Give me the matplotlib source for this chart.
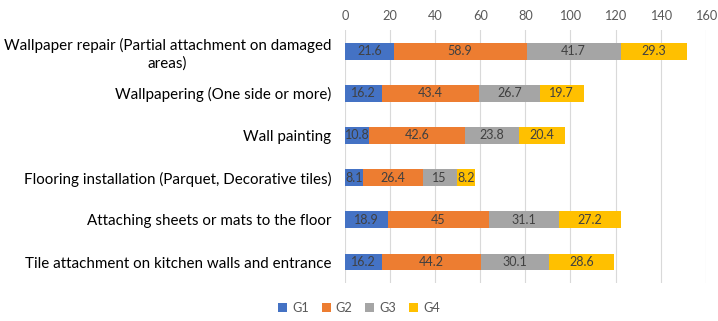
import matplotlib
matplotlib.use("Agg")
import matplotlib.pyplot as plt
import numpy as np

plt.rcParams['font.family'] = ['Lato', 'DejaVu Sans']

categories = [
    "Wallpaper repair (Partial attachment on damaged\nareas)",
    "Wallpapering (One side or more)",
    "Wall painting",
    "Flooring installation (Parquet, Decorative tiles)",
    "Attaching sheets or mats to the floor",
    "Tile attachment on kitchen walls and entrance",
]
g1 = [21.6, 16.2, 10.8, 8.1, 18.9, 16.2]
g2 = [58.9, 43.4, 42.6, 26.4, 45, 44.2]
g3 = [41.7, 26.7, 23.8, 15, 31.1, 30.1]
g4 = [29.3, 19.7, 20.4, 8.2, 27.2, 28.6]
series_names = ["G1", "G2", "G3", "G4"]
colors = ["#4472C4", "#ED7D31", "#A5A5A5", "#FFC000"]
x_ticks = [0, 20, 40, 60, 80, 100, 120, 140, 160]

fig = plt.figure(figsize=(7.18, 3.21), dpi=100)
ax = fig.add_axes([0.4805, 0.118, 0.5025, 0.7885])

y = np.arange(len(categories))
left = np.zeros(len(categories))
for vals, name, col in zip([g1, g2, g3, g4], series_names, colors):
    vals = np.array(vals, dtype=float)
    ax.barh(y, vals, left=left, height=0.4, color=col, label=name, zorder=3)
    for yi, l, v in zip(y, left, vals):
        ax.text(l + v / 2, yi, f"{v:g}", ha="center", va="center",
                fontsize=9, color="#404040", zorder=4)
    left += vals

ax.set_ylim(len(categories) - 0.5, -0.5)
ax.set_xlim(0, 160)
ax.set_xticks(x_ticks)
ax.xaxis.tick_top()
ax.tick_params(axis="x", length=0, labelsize=9.2, labelcolor="#595959", pad=6)
ax.set_yticks(y)
ax.set_yticklabels(categories, fontsize=10.9, color="#000000", ha="right",
                   multialignment="center", linespacing=1.3)
ax.tick_params(axis="y", length=0, pad=10)
ax.grid(axis="x", color="#D9D9D9", linewidth=0.8, zorder=0)
for s in ax.spines.values():
    s.set_visible(False)

fig.legend(loc="lower center", bbox_to_anchor=(0.5, -0.015), ncol=4, frameon=False,
           fontsize=9.2, handlelength=0.7, handleheight=0.7, handletextpad=0.4,
           columnspacing=1.0, labelcolor="#595959")

fig.savefig("out.png", dpi=100)
